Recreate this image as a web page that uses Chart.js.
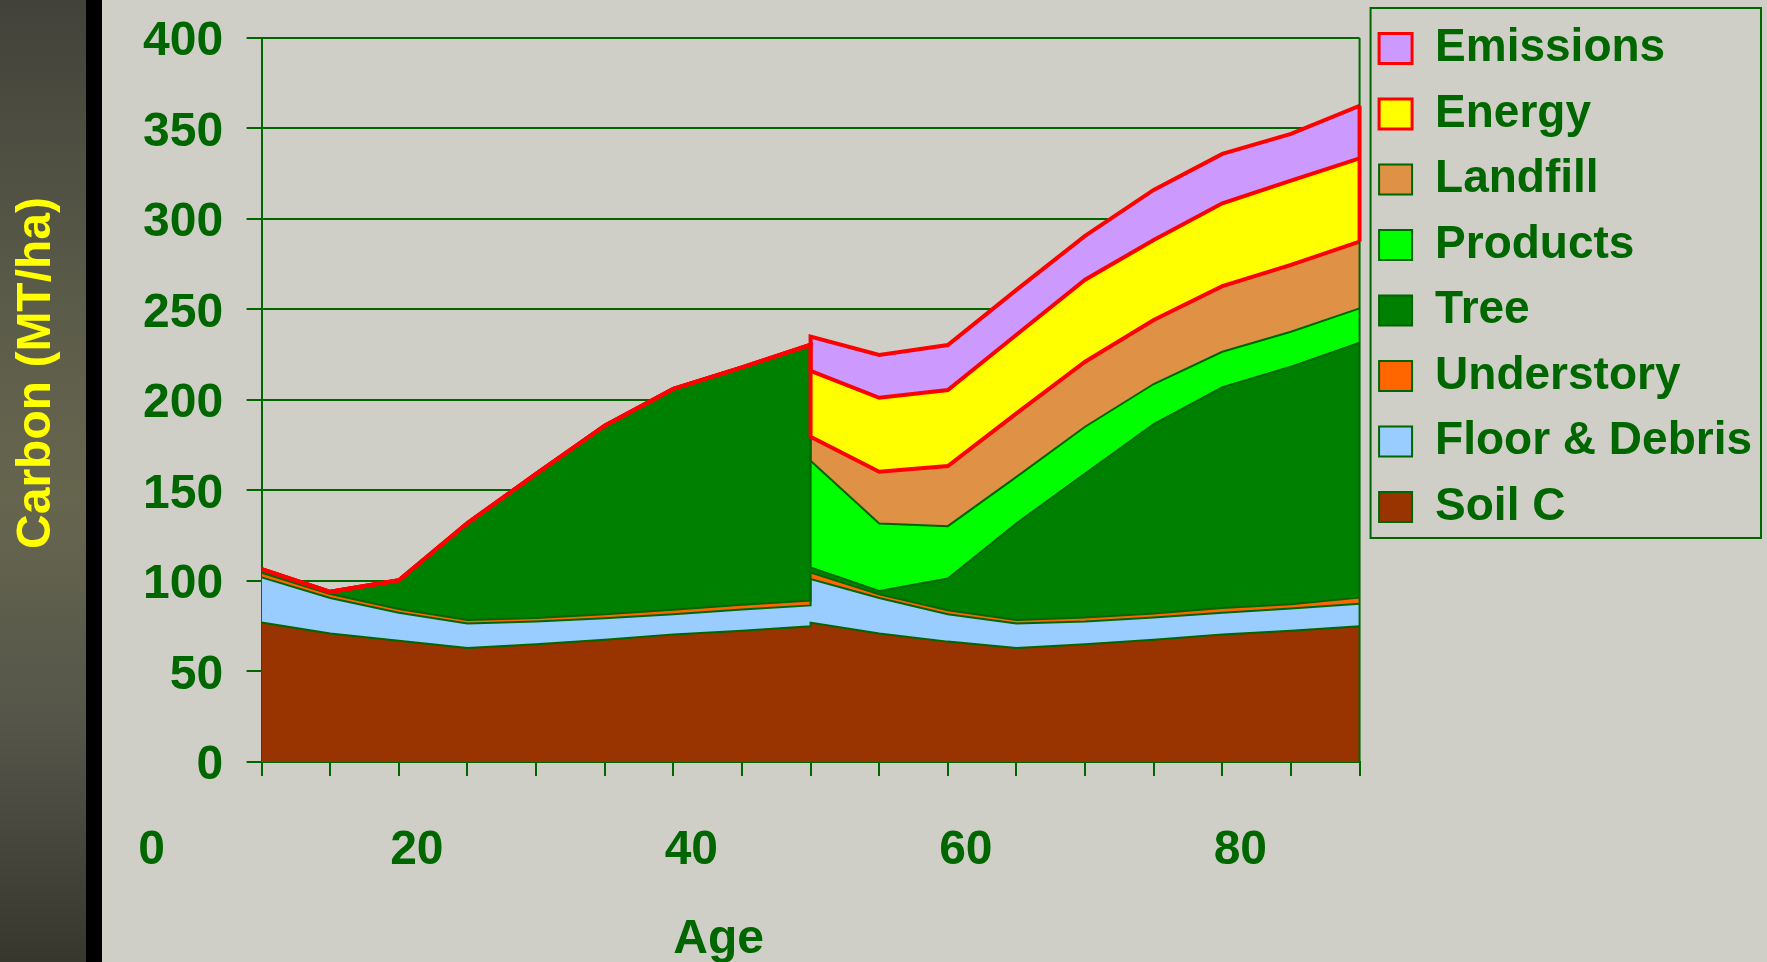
<!DOCTYPE html>
<html>
<head>
<meta charset="utf-8">
<title>Carbon (MT/ha) vs Age</title>
<script src="https://cdn.jsdelivr.net/npm/chart.js@4.4.0/dist/chart.umd.min.js"></script>
<style>
  html, body { margin: 0; padding: 0; }
  body {
    width: 1767px;
    height: 962px;
    overflow: hidden;
    background:
      linear-gradient(to right, transparent 0, transparent 86px, #000 86px, #000 102px, #CFCFC7 102px),
      linear-gradient(to bottom, #42423A 0%, #5A5A49 30%, #66664F 52%, #55554A 75%, #37372E 100%);
  }
  #wrap { position: relative; width: 1767px; height: 962px; }
</style>
</head>
<body>
<div id="wrap"><canvas id="carbon-chart"></canvas></div>
<script>
// Edades: el 50 aparece dos veces (antes y despues de la cosecha)
const edades = [10, 15, 20, 25, 30, 35, 40, 45, 50, 50, 55, 60, 65, 70, 75, 80, 85, 90];

// Valores de cada capa (MT/ha), de arriba hacia abajo en la pila
const emissions   = [0, 0, 0, 0, 0, 0, 0, 0, 0, 18.9, 23.6, 24.8, 24.8, 24.2, 27.6, 27.3, 25.8, 29];
const energy      = [0, 0, 0, 0, 0, 0, 0, 0, 0, 36.4, 40.9, 42, 43.4, 45.3, 44.2, 45.7, 46.6, 46];
const landfill    = [0, 0, 0, 0, 0, 0, 0, 0, 0, 13.3, 28.5, 33.2, 35.1, 35.9, 35.4, 36.3, 36.9, 36.9];
const products    = [0, 0, 0, 0, 0, 0, 0, 0, 0, 58.9, 37.3, 28.9, 25.7, 25.8, 22.1, 19.6, 19.3, 19];
const tree        = [2, 1.2, 15.9, 53.5, 79.6, 104.2, 122, 131.2, 141.3, 2.9, 1.9, 17.6, 53.3, 79.6, 104.7, 121.9, 131.3, 140.8];
const understory  = [2.5, 2.2, 2, 2, 2, 2.2, 2.5, 2.5, 2.7, 3.5, 2, 2.2, 2, 2.2, 2.2, 2.6, 2.3, 3.4];
const floorDebris = [25, 19.6, 15.5, 13.5, 12.6, 11.9, 11.1, 11.8, 11.5, 24.1, 19.6, 15.1, 13.5, 12.6, 12.3, 12, 12.3, 12.4];
const soilC       = [77, 71, 67, 63, 65, 67.5, 70.5, 72.5, 75, 77, 71, 66.5, 63, 65, 67.5, 70.5, 72.5, 75];

const nombresSeries = ['Emissions', 'Energy', 'Landfill', 'Products', 'Tree', 'Understory', 'Floor & Debris', 'Soil C'];
const capas = [emissions, energy, landfill, products, tree, understory, floorDebris, soilC];

// Etiquetas del eje X (tal como aparecen en la lamina)
const etiquetasEdad = [20, 40, 60, 80];
const etiquetaCero = '0';
const tituloY = 'Carbon (MT/ha)';
const tituloX = 'Age';

const yMin = 0, yMax = 400, yPaso = 50;
const xMin = 10, xMax = 90, xPaso = 5;

// Colores
const VERDE = '#006600';
const ROJO = '#FF0000';
const rellenos = ['#CC99FF', '#FFFF00', '#DF9145', '#00FF00', '#008000', '#FF6600', '#99CCFF', '#993300'];
const bordes = [ROJO, ROJO, ROJO, VERDE, VERDE, VERDE, VERDE, VERDE];
const bordesLeyenda = [ROJO, ROJO, VERDE, VERDE, VERDE, VERDE, VERDE, VERDE];
const grosores = [4, 4, 4, 2, 2, 2, 2, 2];

// Sumas acumuladas desde el suelo hacia arriba
const topes = [];
let acumulado = edades.map(() => 0);
for (let i = capas.length - 1; i >= 0; i--) {
    acumulado = acumulado.map((v, j) => v + capas[i][j]);
    topes[i] = acumulado;
}

const FUENTE = '"Liberation Sans", Arial, sans-serif';
Chart.defaults.font.family = FUENTE;
Chart.defaults.font.weight = 'bold';
Chart.defaults.color = VERDE;

// Textos sueltos, marco de la leyenda y bordes del area
const extras = {
    id: 'extras',
    afterDraw(chart) {
        const { ctx, chartArea, scales } = chart;
        const x = scales.x, y = scales.y;
        ctx.save();

        // borde derecho del area de trazado
        ctx.strokeStyle = VERDE;
        ctx.lineWidth = 2;
        ctx.beginPath();
        ctx.moveTo(chartArea.right, chartArea.top);
        ctx.lineTo(chartArea.right, chartArea.bottom);
        ctx.stroke();

        // borde rojo al final de Energy / Emissions
        const ultimo = edades.length - 1;
        ctx.strokeStyle = ROJO;
        ctx.lineWidth = 4;
        ctx.beginPath();
        ctx.moveTo(x.getPixelForValue(edades[ultimo]), y.getPixelForValue(topes[2][ultimo]));
        ctx.lineTo(x.getPixelForValue(edades[ultimo]), y.getPixelForValue(topes[0][ultimo]));
        ctx.stroke();

        // marco de la leyenda
        const lg = chart.legend;
        const cajas = lg.legendHitBoxes;
        const ultimaCaja = cajas[cajas.length - 1];
        const arriba = 8;
        ctx.strokeStyle = VERDE;
        ctx.lineWidth = 2;
        ctx.strokeRect(lg.left + 11, arriba, lg.right - lg.left - 12, ultimaCaja.top + ultimaCaja.height + 8 - arriba);

        // titulo del eje Y
        ctx.fillStyle = '#FFFF00';
        ctx.font = 'bold 48px ' + FUENTE;
        ctx.textAlign = 'center';
        ctx.textBaseline = 'middle';
        ctx.translate(37, (chartArea.top + chartArea.bottom) / 2 - 27);
        ctx.rotate(-Math.PI / 2);
        ctx.fillText(tituloY, 0, 0);
        ctx.restore();

        ctx.save();
        ctx.fillStyle = VERDE;
        ctx.font = 'bold 48px ' + FUENTE;
        ctx.textAlign = 'center';
        ctx.textBaseline = 'middle';
        ctx.fillText(etiquetaCero, chartArea.left - 110, chartArea.bottom + 89);
        ctx.fillText(tituloX, chartArea.left + 457, chartArea.bottom + 178);
        ctx.restore();
    }
};

const ctx = document.getElementById('carbon-chart').getContext('2d');
const carbonChart = new Chart(ctx, {
    type: 'line',
    data: {
        datasets: nombresSeries.map((nombre, i) => ({
            label: nombre,
            data: edades.map((edad, j) => ({ x: edad, y: topes[i][j] })),
            backgroundColor: rellenos[i],
            borderColor: bordes[i],
            borderWidth: grosores[i],
            pointRadius: 0,
            tension: 0,
            fill: i === nombresSeries.length - 1 ? 'origin' : '+1'
        }))
    },
    options: {
        responsive: true,
        maintainAspectRatio: false,
        animation: false,
        layout: {
            padding: { left: 119.5, right: 5, top: 0, bottom: 37.4 }
        },
        scales: {
            x: {
                type: 'linear',
                min: xMin,
                max: xMax,
                grid: { drawOnChartArea: false, drawTicks: true, tickLength: 14, color: VERDE, lineWidth: 2 },
                border: { color: VERDE, width: 2 },
                ticks: {
                    stepSize: xPaso,
                    autoSkip: false,
                    maxRotation: 0,
                    padding: 45.5,
                    labelOffset: 18,
                    color: VERDE,
                    font: { size: 48, weight: 'bold' },
                    callback: v => etiquetasEdad.includes(v) ? String(v) : ''
                }
            },
            y: {
                min: yMin,
                max: yMax,
                grid: { color: VERDE, lineWidth: 2, tickLength: 15 },
                border: { color: VERDE, width: 2 },
                ticks: {
                    stepSize: yPaso,
                    padding: 23.5,
                    labelOffset: 4,
                    color: VERDE,
                    font: { size: 48, weight: 'bold', lineHeight: 0.6 }
                }
            }
        },
        plugins: {
            filler: { drawTime: 'beforeDatasetsDraw' },
            tooltip: { enabled: false },
            legend: {
                position: 'right',
                align: 'start',
                title: { display: true, text: ' ', padding: 0, font: { size: 5 } },
                labels: {
                    boxWidth: 33,
                    boxHeight: 30,
                    padding: 19.5,
                    color: VERDE,
                    font: { size: 46, weight: 'bold' },
                    generateLabels: chart => Chart.defaults.plugins.legend.labels.generateLabels(chart).map((item, i) => ({
                        ...item,
                        strokeStyle: bordesLeyenda[i],
                        lineWidth: i < 2 ? 3 : 2
                    }))
                }
            }
        }
    },
    plugins: [extras]
});
</script>
</body>
</html>
